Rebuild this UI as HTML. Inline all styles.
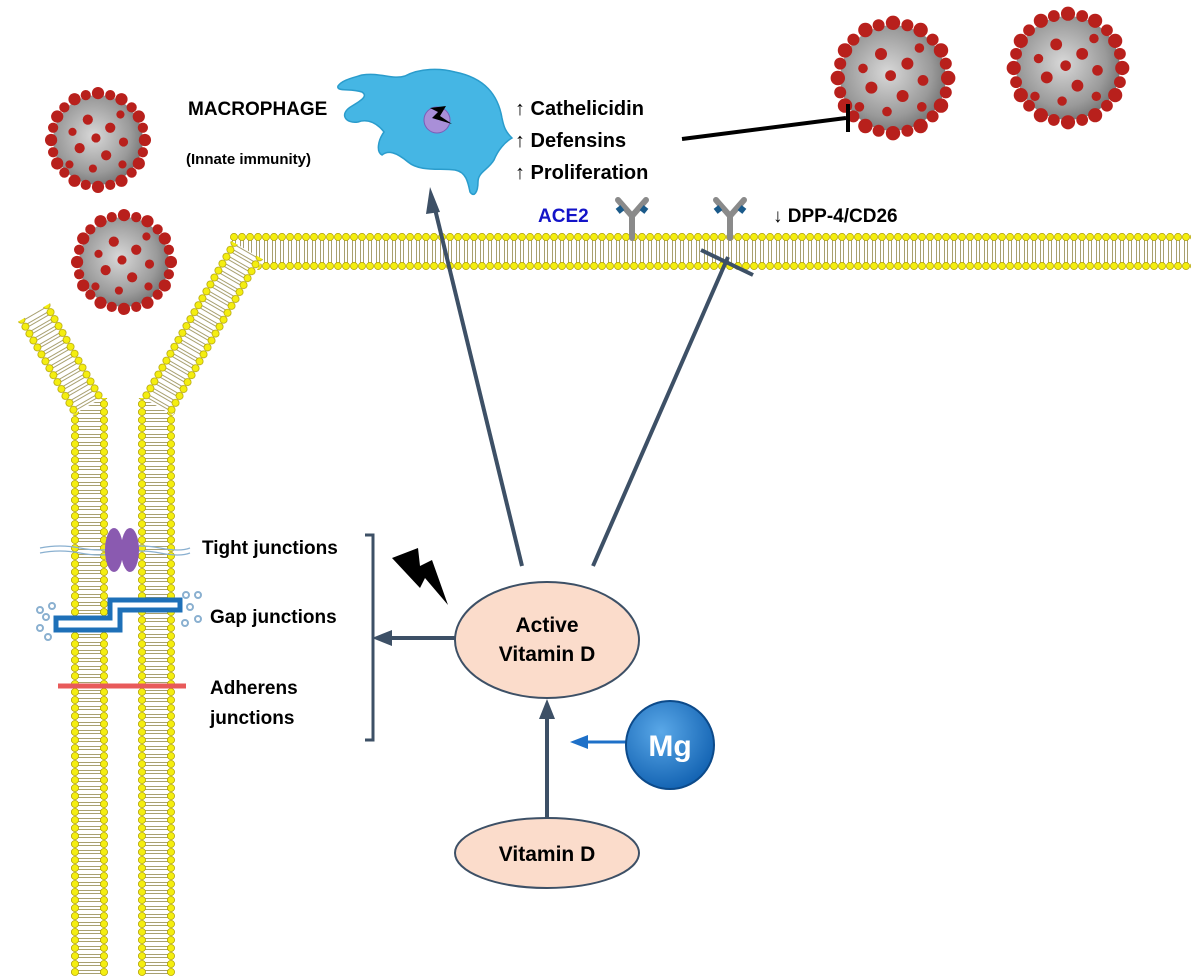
<!DOCTYPE html>
<html><head><meta charset="utf-8"><style>
html,body{margin:0;padding:0;background:#fff;}
svg{display:block;}
text{font-family:"Liberation Sans",Arial,sans-serif;font-weight:bold;}
</style></head><body>
<svg width="1191" height="976" viewBox="0 0 1191 976" xmlns="http://www.w3.org/2000/svg">
<defs>
<pattern id="mem" patternUnits="userSpaceOnUse" width="8" height="37">
<rect width="8" height="37" fill="#fff"/>
<line x1="2.5" y1="6" x2="2.5" y2="31" stroke="#a8a070" stroke-width="1"/>
<line x1="5.5" y1="6" x2="5.5" y2="31" stroke="#a8a070" stroke-width="1"/>
<circle cx="4" cy="4" r="3.6" fill="#f4ee10" stroke="#b0a000" stroke-width="0.7"/>
<circle cx="4" cy="33" r="3.6" fill="#f4ee10" stroke="#b0a000" stroke-width="0.7"/>
</pattern>
<radialGradient id="vg" cx="0.45" cy="0.45" r="0.6">
<stop offset="0" stop-color="#d8d8d8"/><stop offset="0.7" stop-color="#9a9a9a"/><stop offset="1" stop-color="#707070"/>
</radialGradient>
<radialGradient id="mg" cx="0.4" cy="0.35" r="0.7">
<stop offset="0" stop-color="#5aa8e8"/><stop offset="1" stop-color="#1060b0"/>
</radialGradient>
<g id="virus">
<circle r="44" fill="url(#vg)"/>
<g fill="#b8201c">
<circle cx="0" cy="-46" r="6"/><circle cx="23" cy="-40" r="6"/><circle cx="40" cy="-23" r="6"/><circle cx="46" cy="0" r="6"/>
<circle cx="40" cy="23" r="6"/><circle cx="23" cy="40" r="6"/><circle cx="0" cy="46" r="6"/><circle cx="-23" cy="40" r="6"/>
<circle cx="-40" cy="23" r="6"/><circle cx="-46" cy="0" r="6"/><circle cx="-40" cy="-23" r="6"/><circle cx="-23" cy="-40" r="6"/>
<circle cx="12" cy="-44" r="5"/><circle cx="33" cy="-32" r="5"/><circle cx="44" cy="-12" r="5"/><circle cx="44" cy="12" r="5"/>
<circle cx="33" cy="32" r="5"/><circle cx="12" cy="44" r="5"/><circle cx="-12" cy="44" r="5"/><circle cx="-33" cy="32" r="5"/>
<circle cx="-44" cy="12" r="5"/><circle cx="-44" cy="-12" r="5"/><circle cx="-33" cy="-32" r="5"/><circle cx="-12" cy="-44" r="5"/>
<circle cx="-10" cy="-20" r="5"/><circle cx="12" cy="-12" r="5"/><circle cx="-18" cy="8" r="5"/><circle cx="8" cy="15" r="5"/>
<circle cx="25" cy="2" r="4.5"/><circle cx="-2" cy="-2" r="4.5"/><circle cx="-25" cy="-8" r="4"/><circle cx="-5" cy="28" r="4"/>
<circle cx="22" cy="-25" r="4"/><circle cx="-28" cy="24" r="4"/><circle cx="24" cy="24" r="4"/>
</g>
</g>
<g id="ab">
<path d="M0 0 L0 -22 M0 -22 L-14 -38 M0 -22 L14 -38" stroke="#8a8a8a" stroke-width="6" fill="none" stroke-linecap="round"/>
<path d="M-10 -26 L-14 -31" stroke="#1a5a8a" stroke-width="6"/>
<path d="M10 -26 L14 -31" stroke="#1a5a8a" stroke-width="6"/>
</g>
</defs>

<!-- membranes -->
<g transform="translate(230,233)"><rect x="0" y="0" width="961" height="37" fill="url(#mem)"/></g>
<g transform="translate(71,976) rotate(-90)"><rect x="0" y="0" width="578" height="37" fill="url(#mem)"/></g>
<g transform="translate(138,976) rotate(-90)"><rect x="0" y="0" width="578" height="37" fill="url(#mem)"/></g>
<g transform="translate(88,406) rotate(-120) translate(0,-18.5)"><rect x="0" y="0" width="108" height="37" fill="url(#mem)"/></g>
<g transform="translate(157,406) rotate(-60) translate(0,-18.5)"><rect x="0" y="0" width="180" height="37" fill="url(#mem)"/></g>

<!-- viruses -->
<use href="#virus" transform="translate(98,140) scale(1.02)"/>
<use href="#virus" transform="translate(124,262) scale(1.02)"/>
<use href="#virus" transform="translate(893,78) scale(1.2)"/>
<use href="#virus" transform="translate(1068,68) scale(1.18)"/>

<!-- macrophage -->
<path d="M362 75 C380 72 392 80 405 76 C420 68 440 68 455 72 C485 78 498 95 502 118 C504 128 506 132 512 138 C505 142 498 150 494 160 C488 170 478 172 478 182 C478 192 474 198 470 192 C468 182 466 172 455 170 C440 168 420 172 408 162 C396 152 388 150 382 155 C376 152 378 140 384 132 C378 124 368 118 358 122 C346 124 338 114 352 106 C362 100 368 96 362 92 C350 88 336 92 338 86 C342 80 352 78 362 75 Z" fill="#45b6e4" stroke="#2a9ccc" stroke-width="1.5"/>
<circle cx="437" cy="120" r="13" fill="#a98fd8" stroke="#7c5cb8"/>
<path d="M430 108 L446 106 L440 116 L452 124 L432 118 L438 112 Z" fill="#000"/>

<!-- text top -->
<text x="188" y="115" font-size="19">MACROPHAGE</text>
<text x="186" y="164" font-size="15">(Innate immunity)</text>
<text x="515" y="115" font-size="20">↑ Cathelicidin</text>
<text x="515" y="147" font-size="20">↑ Defensins</text>
<text x="515" y="179" font-size="20">↑ Proliferation</text>
<text x="538" y="222" font-size="19" fill="#1414c8">ACE2</text>
<text x="773" y="222" font-size="19">↓ DPP-4/CD26</text>
<use href="#ab" transform="translate(632,238)"/>
<use href="#ab" transform="translate(730,238)"/>

<!-- inhibition black -->
<line x1="682" y1="139" x2="846" y2="118" stroke="#000" stroke-width="4"/>
<line x1="848" y1="104" x2="848" y2="132" stroke="#000" stroke-width="4"/>

<!-- junctions -->
<path d="M40 548 Q60 544 80 548 T120 548 T160 548 T190 548" stroke="#8ab0d0" stroke-width="1.3" fill="none"/>
<path d="M40 553 Q60 549 80 553 T120 553 T160 553 T190 553" stroke="#8ab0d0" stroke-width="1.3" fill="none"/>
<ellipse cx="114" cy="550" rx="9" ry="22" fill="#8a5ab0"/>
<ellipse cx="130" cy="550" rx="9" ry="22" fill="#8a5ab0"/>
<path d="M56 618 L56 630 L120 630 L120 610 L180 610 L180 600 L110 600 L110 618 Z" fill="#fff" stroke="#1e70b8" stroke-width="5" stroke-linejoin="miter"/>
<g fill="none" stroke="#8ab0d0" stroke-width="2">
<circle cx="40" cy="610" r="3"/><circle cx="52" cy="606" r="3"/><circle cx="46" cy="617" r="3"/><circle cx="40" cy="628" r="3"/><circle cx="48" cy="637" r="3"/>
<circle cx="186" cy="595" r="3"/><circle cx="198" cy="595" r="3"/><circle cx="190" cy="607" r="3"/><circle cx="198" cy="619" r="3"/><circle cx="185" cy="623" r="3"/>
</g>
<line x1="58" y1="686" x2="186" y2="686" stroke="#e85a5a" stroke-width="5"/>
<text x="202" y="554" font-size="19">Tight junctions</text>
<text x="210" y="623" font-size="19">Gap junctions</text>
<text x="210" y="694" font-size="19">Adherens</text>
<text x="210" y="724" font-size="19">junctions</text>

<!-- bracket -->
<path d="M365 535 L373 535 L373 740 L365 740" stroke="#3d5066" stroke-width="3" fill="none"/>

<!-- bolt -->
<path d="M392 558 L418 548 L420 566 L432 560 L448 605 L425 578 L420 588 Z" fill="#000"/>

<!-- arrows -->
<g stroke="#3d5066" stroke-width="4" fill="#3d5066">
<line x1="522" y1="566" x2="434" y2="205"/>
<polygon points="430,187 440,212 426,214" stroke="none"/>
<line x1="593" y1="566" x2="728" y2="257"/>
<line x1="701" y1="250" x2="753" y2="275"/>
<line x1="455" y1="638" x2="388" y2="638"/>
<polygon points="372,638 392,630 392,646" stroke="none"/>
</g>

<!-- nodes -->
<ellipse cx="547" cy="640" rx="92" ry="58" fill="#fbdccb" stroke="#3d5066" stroke-width="2"/>
<text x="547" y="632" font-size="21" text-anchor="middle">Active</text>
<text x="547" y="661" font-size="21" text-anchor="middle">Vitamin D</text>
<ellipse cx="547" cy="853" rx="92" ry="35" fill="#fbdccb" stroke="#3d5066" stroke-width="2"/>
<text x="547" y="861" font-size="21" text-anchor="middle">Vitamin D</text>

<g stroke="#3d5066" stroke-width="4" fill="#3d5066">
<line x1="547" y1="818" x2="547" y2="715"/>
<polygon points="547,699 555,719 539,719" stroke="none"/>
</g>
<g stroke="#1e70c8" stroke-width="3" fill="#1e70c8">
<line x1="626" y1="742" x2="584" y2="742"/>
<polygon points="570,742 588,735 588,749" stroke="none"/>
</g>
<circle cx="670" cy="745" r="44" fill="url(#mg)" stroke="#0c4a8a" stroke-width="2"/>
<text x="670" y="756" font-size="30" text-anchor="middle" fill="#fff">Mg</text>
</svg>
</body></html>
